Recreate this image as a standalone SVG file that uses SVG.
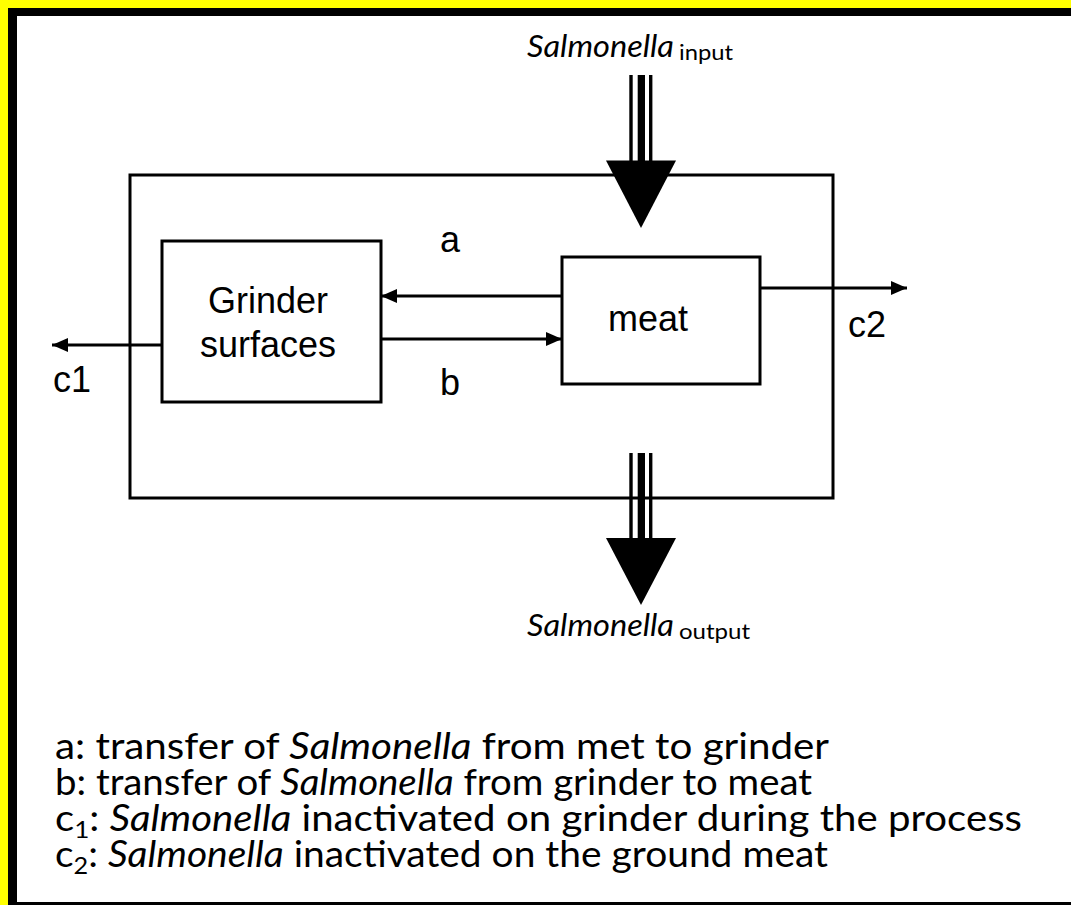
<svg xmlns="http://www.w3.org/2000/svg" width="1071" height="905" viewBox="0 0 1071 905">
  <style>
    .box { fill: none; stroke: #000; stroke-width: 3; }
    .conn { stroke: #000; stroke-width: 3; fill: none; }
    .lbl { font-family: "Liberation Sans", Arial, sans-serif; font-size: 36px; fill: #000; }
    .cal { font-family: Lato, "Open Sans", sans-serif; fill: #000; }
    .it { font-style: italic; }
    .big { fill: #000; }
  </style>
  <defs>
    <marker id="ah" markerUnits="userSpaceOnUse" markerWidth="18" markerHeight="14" refX="16" refY="7" orient="auto">
      <path d="M0,0 L16,7 L0,14 Z" fill="#000"/>
    </marker>
  </defs>

  <!-- frame -->
  <rect x="0" y="0" width="1071" height="905" fill="#fff"/>
  <rect x="0" y="0" width="1071" height="8" fill="#ffff00"/>
  <rect x="0" y="0" width="8" height="905" fill="#ffff00"/>
  <rect x="8" y="8" width="1063" height="8" fill="#000"/>
  <rect x="8" y="8" width="9" height="897" fill="#000"/>
  <rect x="8" y="902" width="1063" height="3" fill="#000"/>

  <!-- system boundary -->
  <g id="node-system">
    <rect class="box" x="130" y="175" width="703" height="323"/>
  </g>

  <g id="node-grinder">
    <rect class="box" x="162" y="241" width="219" height="161"/>
    <text class="lbl" x="268" y="313" text-anchor="middle">Grinder</text>
    <text class="lbl" x="268" y="357" text-anchor="middle">surfaces</text>
  </g>

  <g id="node-meat">
    <rect class="box" x="562" y="257" width="198" height="127"/>
    <text class="lbl" x="648" y="331" text-anchor="middle">meat</text>
  </g>

  <g id="connectors">
    <line class="conn" x1="562" y1="296" x2="381" y2="296" marker-end="url(#ah)"/>
    <line class="conn" x1="381" y1="339" x2="562" y2="339" marker-end="url(#ah)"/>
    <line class="conn" x1="162" y1="345" x2="52" y2="345" marker-end="url(#ah)"/>
    <line class="conn" x1="760" y1="288" x2="907" y2="288" marker-end="url(#ah)"/>

    <g id="input-arrow">
      <rect class="big" x="629.3" y="75" width="3.4" height="86"/>
      <rect class="big" x="637.7" y="75" width="7.3" height="86"/>
      <rect class="big" x="649" y="75" width="3.4" height="86"/>
      <polygon class="big" points="606,160.5 676,160.5 641,228"/>
    </g>
    <g id="output-arrow">
      <rect class="big" x="629.3" y="453" width="3.4" height="86"/>
      <rect class="big" x="637.7" y="453" width="7.3" height="86"/>
      <rect class="big" x="649" y="453" width="3.4" height="86"/>
      <polygon class="big" points="606,538 676,538 641,605"/>
    </g>
  </g>

  <g id="labels">
    <text class="lbl" x="450" y="252" text-anchor="middle">a</text>
    <text class="lbl" x="450" y="395" text-anchor="middle">b</text>
    <text class="lbl" x="53" y="392">c1</text>
    <text class="lbl" x="848" y="337">c2</text>

    <text class="cal it" x="527" y="57" font-size="30" textLength="147" lengthAdjust="spacingAndGlyphs">Salmonella</text>
    <text class="cal" x="679" y="60" font-size="21" textLength="54" lengthAdjust="spacingAndGlyphs">input</text>

    <text class="cal it" x="527" y="636" font-size="30" textLength="147" lengthAdjust="spacingAndGlyphs">Salmonella</text>
    <text class="cal" x="679" y="639" font-size="21" textLength="71" lengthAdjust="spacingAndGlyphs">output</text>
  </g>

  <g id="legend" class="cal" font-size="37">
    <text x="55" y="759" textLength="774" lengthAdjust="spacingAndGlyphs">a: transfer of <tspan class="it">Salmonella</tspan> from met to grinder</text>
    <text x="55" y="795" textLength="757" lengthAdjust="spacingAndGlyphs">b: transfer of <tspan class="it">Salmonella</tspan> from grinder to meat</text>
    <text x="55" y="831" textLength="967" lengthAdjust="spacingAndGlyphs">c<tspan font-size="24" dy="7">1</tspan><tspan dy="-7">: </tspan><tspan class="it">Salmonella</tspan> inactivated on grinder during the process</text>
    <text x="55" y="867" textLength="773" lengthAdjust="spacingAndGlyphs">c<tspan font-size="24" dy="7">2</tspan><tspan dy="-7">: </tspan><tspan class="it">Salmonella</tspan> inactivated on the ground meat</text>
  </g>
</svg>
